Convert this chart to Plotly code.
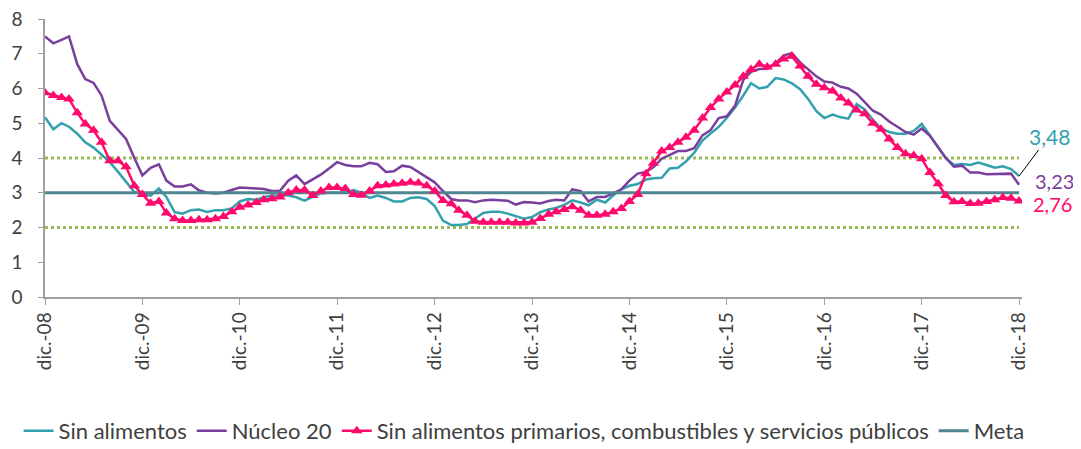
import pandas as pd
import plotly.graph_objects as go

# Monthly dates, dic-08 .. dic-18
fechas = pd.date_range("2008-12-01", periods=121, freq="MS")

sin_alimentos = [
    5.17, 4.83, 5.00, 4.90, 4.70, 4.45, 4.30, 4.10, 3.88, 3.60, 3.30, 3.02,
    2.97, 2.92, 3.12, 2.88, 2.44, 2.40, 2.50, 2.52, 2.45, 2.50, 2.50, 2.55,
    2.75, 2.82, 2.80, 2.87, 2.92, 2.93, 2.92, 2.87, 2.77, 2.88, 2.98, 3.00,
    3.00, 3.00, 3.08, 3.00, 2.85, 2.92, 2.85, 2.75, 2.75, 2.85, 2.87, 2.82,
    2.62, 2.20, 2.07, 2.07, 2.10, 2.25, 2.42, 2.45, 2.45, 2.40, 2.33, 2.25,
    2.30, 2.44, 2.52, 2.56, 2.65, 2.78, 2.72, 2.64, 2.80, 2.72, 2.92, 3.10,
    3.20, 3.25, 3.38, 3.42, 3.43, 3.70, 3.72, 3.90, 4.15, 4.50, 4.70, 4.90,
    5.15, 5.45, 5.80, 6.15, 6.00, 6.05, 6.30, 6.26, 6.15, 5.98, 5.70, 5.35,
    5.15, 5.25, 5.17, 5.13, 5.55, 5.40, 5.10, 4.85, 4.75, 4.70, 4.70, 4.78,
    4.98, 4.65, 4.30, 4.00, 3.80, 3.83, 3.80, 3.87, 3.80, 3.72, 3.76, 3.68,
    3.48,
]

nucleo_20 = [
    7.50, 7.30, 7.40, 7.50, 6.70, 6.27, 6.16, 5.80, 5.07, 4.82, 4.55, 4.00,
    3.50, 3.72, 3.82, 3.35, 3.18, 3.18, 3.24, 3.07, 3.00, 2.98, 3.00, 3.08,
    3.15, 3.14, 3.13, 3.11, 3.05, 3.06, 3.35, 3.50, 3.25, 3.38, 3.52, 3.70,
    3.88, 3.80, 3.76, 3.76, 3.86, 3.82, 3.60, 3.62, 3.78, 3.74, 3.60, 3.45,
    3.30, 3.05, 2.82, 2.78, 2.78, 2.73, 2.78, 2.80, 2.78, 2.77, 2.66, 2.73,
    2.72, 2.69, 2.76, 2.80, 2.78, 3.10, 3.05, 2.75, 2.88, 2.88, 2.98, 3.10,
    3.35, 3.55, 3.60, 3.73, 3.98, 4.10, 4.20, 4.20, 4.28, 4.65, 4.80, 5.15,
    5.20, 5.50, 6.25, 6.48, 6.56, 6.57, 6.72, 6.95, 7.02, 6.75, 6.55, 6.35,
    6.20, 6.17, 6.05, 6.00, 5.85, 5.60, 5.36, 5.25, 5.05, 4.90, 4.75, 4.67,
    4.85, 4.64, 4.30, 4.00, 3.75, 3.78, 3.58, 3.58, 3.53, 3.54, 3.55, 3.55,
    3.23,
]

sin_prim_comb_serv = [
    5.88, 5.80, 5.74, 5.70, 5.30, 4.98, 4.80, 4.45, 3.92, 3.92, 3.75, 3.20,
    2.95, 2.70, 2.75, 2.42, 2.25, 2.20, 2.20, 2.22, 2.22, 2.25, 2.32, 2.45,
    2.58, 2.65, 2.72, 2.80, 2.83, 2.88, 3.00, 3.08, 3.08, 2.92, 3.05, 3.15,
    3.15, 3.12, 2.95, 2.93, 3.05, 3.20, 3.22, 3.25, 3.27, 3.30, 3.28, 3.20,
    3.05, 2.78, 2.68, 2.50, 2.35, 2.18, 2.15, 2.15, 2.15, 2.15, 2.13, 2.13,
    2.15, 2.26, 2.38, 2.45, 2.52, 2.60, 2.50, 2.35, 2.35, 2.38, 2.45, 2.55,
    2.75, 2.95, 3.55, 3.85, 4.20, 4.30, 4.45, 4.60, 4.80, 5.15, 5.45, 5.70,
    5.90, 6.10, 6.35, 6.55, 6.70, 6.62, 6.70, 6.85, 6.93, 6.65, 6.35, 6.12,
    6.02, 5.93, 5.73, 5.58, 5.38, 5.27, 5.00, 4.83, 4.55, 4.30, 4.12, 4.07,
    3.98, 3.58, 3.26, 2.92, 2.74, 2.75, 2.69, 2.70, 2.75, 2.80, 2.86, 2.84,
    2.76,
]

meta = [3.0] * len(fechas)
banda_sup = [4.0] * len(fechas)
banda_inf = [2.0] * len(fechas)

tick_fechas = ["2008-12-01", "2009-12-01", "2010-12-01", "2011-12-01", "2012-12-01",
               "2013-12-01", "2014-12-01", "2015-12-01", "2016-12-01", "2017-12-01",
               "2018-12-01"]
tick_labels = ["dic.-08", "dic.-09", "dic.-10", "dic.-11", "dic.-12", "dic.-13",
               "dic.-14", "dic.-15", "dic.-16", "dic.-17", "dic.-18"]

C_SA = "#33A0AE"
C_N20 = "#7A3F9D"
C_RED = "#FF0A6C"
C_META = "#4F8790"
C_BAND = "#9BBB59"
FONT = "Lato"
TXT = "#404040"

fig = go.Figure()
for yb in (banda_sup, banda_inf):
    fig.add_trace(go.Scatter(x=fechas, y=yb, mode="lines", showlegend=False,
                             hoverinfo="skip",
                             line=dict(color=C_BAND, width=3, dash="dot")))
fig.add_trace(go.Scatter(x=fechas, y=sin_alimentos, mode="lines", name="Sin alimentos",
                         line=dict(color=C_SA, width=2.5), legendrank=1))
fig.add_trace(go.Scatter(x=fechas, y=nucleo_20, mode="lines", name="Núcleo 20",
                         line=dict(color=C_N20, width=2.5), legendrank=2))
fig.add_trace(go.Scatter(x=fechas, y=meta, mode="lines", name="Meta",
                         line=dict(color=C_META, width=3), legendrank=4))
fig.add_trace(go.Scatter(x=fechas, y=sin_prim_comb_serv, mode="lines+markers",
                         name="Sin alimentos primarios, combustibles y servicios públicos",
                         line=dict(color=C_RED, width=2.5),
                         marker=dict(symbol="triangle-up", size=10, color=C_RED),
                         legendrank=3))

last = fechas[-1]
fig.add_annotation(x=last, y=sin_alimentos[-1], text="3,48", showarrow=True,
                   arrowhead=0, arrowwidth=1, arrowcolor="#000000",
                   ax=30, ay=-40, font=dict(color=C_SA, size=21, family=FONT))
fig.add_annotation(x=last, y=nucleo_20[-1], text="3,23", showarrow=False,
                   xanchor="left", xshift=14, yshift=4,
                   font=dict(color=C_N20, size=20, family=FONT))
fig.add_annotation(x=last, y=sin_prim_comb_serv[-1], text="2,76", showarrow=False,
                   xanchor="left", xshift=12, yshift=-3,
                   font=dict(color=C_RED, size=20, family=FONT))

# page body adds an 8px margin, so the figure is sized/placed to compensate
fig.update_layout(
    width=1073, height=441,
    margin=dict(l=37, r=59, t=11, b=152, autoexpand=False),
    paper_bgcolor="white", plot_bgcolor="white",
    font=dict(family=FONT, color=TXT),
    legend=dict(orientation="h", x=-0.027, y=-0.406, xanchor="left", yanchor="top",
                font=dict(size=22, color=TXT), itemwidth=30, tracegroupgap=0,
                traceorder="normal"),
)
fig.update_xaxes(
    type="date", range=["2008-12-01", "2018-12-12"],
    tickvals=tick_fechas, ticktext=tick_labels, tickangle=-90,
    ticks="outside", ticklen=6, tickcolor="#A0A0A0",
    showline=True, linecolor="#A0A0A0", linewidth=1.5,
    showgrid=False, zeroline=False, automargin=False,
    tickfont=dict(size=19, color=TXT),
)
fig.update_yaxes(
    range=[0, 8], dtick=1, ticks="outside", ticklen=5, tickcolor="#A0A0A0",
    showline=True, linecolor="#A0A0A0", linewidth=1.5,
    showgrid=False, zeroline=False, automargin=False, ticklabelstandoff=12,
    ticklabeloverflow="allow",
    tickfont=dict(size=19, color=TXT),
)
fig.write_html("out.html")
